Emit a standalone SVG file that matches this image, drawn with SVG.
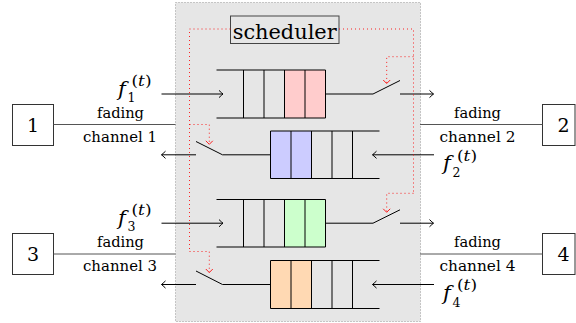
<svg xmlns="http://www.w3.org/2000/svg" width="576" height="323" viewBox="0 0 576 323">
<style>
.ln{stroke:#000;stroke-width:1;fill:none}
.cl{stroke:#555;stroke-width:1;fill:none}
.ar{stroke:#000;stroke-width:1;fill:none;marker-end:url(#tip)}
.rd{stroke:#f00;stroke-width:1;fill:none;stroke-dasharray:1 3;opacity:0.85}
.rda{stroke:#f00;stroke-width:1;fill:none;stroke-dasharray:1 3;opacity:0.85;marker-end:url(#rtip)}
.box{fill:#fff;stroke:#333;stroke-width:1}
text{font-family:'DejaVu Serif','Liberation Serif',serif;fill:#000}
.lab{font-size:14.5px;text-anchor:middle}
.num{font-size:19px;text-anchor:middle}
.fm{font-style:italic;font-size:21px}
.fs{font-size:12.5px}
.fp{font-size:14.5px}
</style>
<defs>
<marker id="tip" markerUnits="userSpaceOnUse" markerWidth="10" markerHeight="10" refX="0" refY="0" orient="auto" overflow="visible">
<path d="M-4,-3.6 Q-1.2,-0.9 0,0 Q-1.2,0.9 -4,3.6" fill="none" stroke="#000" stroke-width="1"/>
</marker>
<marker id="rtip" markerUnits="userSpaceOnUse" markerWidth="10" markerHeight="10" refX="0" refY="0" orient="auto" overflow="visible">
<path d="M-3.5,-3.5 L0,0 L-3.5,3.5" fill="none" stroke="#f00" stroke-width="1"/>
</marker>
</defs>

<g id="scheduler-area">
<rect x="175.5" y="2.5" width="245" height="319" fill="#e6e6e6" stroke="#999" stroke-width="1" stroke-dasharray="1 2"/>
</g>

<g id="scheduler">
<rect x="230.5" y="16" width="108.5" height="27.5" fill="#e6e6e6" stroke="#444" stroke-width="1"/>
<text x="284.7" y="38.5" font-size="21" text-anchor="middle" textLength="104" lengthAdjust="spacingAndGlyphs">scheduler</text>
</g>

<g id="queue1">
<rect x="284.5" y="70" width="41" height="48" fill="#ffcccc"/>
<path class="ln" d="M216.5,70H325.5M216.5,118H325.5M243.5,70V118M264,70V118M284.5,70V118M305,70V118M325.5,70V118"/>
</g>
<g id="queue2">
<rect x="270.5" y="131" width="41" height="47.5" fill="#ccccff"/>
<path class="ln" d="M270.5,131H379.5M270.5,178.5H379.5M270.5,131V178.5M291,131V178.5M311.5,131V178.5M332,131V178.5M352.5,131V178.5"/>
</g>
<g id="queue3">
<rect x="284.5" y="199.5" width="41" height="47.5" fill="#ccffcc"/>
<path class="ln" d="M216.5,199.5H325.5M216.5,247H325.5M243.5,199.5V247M264,199.5V247M284.5,199.5V247M305,199.5V247M325.5,199.5V247"/>
</g>
<g id="queue4">
<rect x="270.5" y="260.5" width="41" height="48" fill="#ffd9b3"/>
<path class="ln" d="M270.5,260.5H379.5M270.5,308.5H379.5M270.5,260.5V308.5M291,260.5V308.5M311.5,260.5V308.5M332,260.5V308.5M352.5,260.5V308.5"/>
</g>

<g id="node1">
<rect class="box" x="12.5" y="104.5" width="41" height="41"/>
<text class="num" x="33" y="132">1</text>
</g>
<g id="node2">
<rect class="box" x="542.5" y="104.5" width="32.5" height="41"/>
<text class="num" x="563.5" y="132">2</text>
</g>
<g id="node3">
<rect class="box" x="12.5" y="233.5" width="41" height="41"/>
<text class="num" x="33" y="261">3</text>
</g>
<g id="node4">
<rect class="box" x="542.5" y="233.5" width="32.5" height="41"/>
<text class="num" x="563.5" y="261">4</text>
</g>

<g id="connectors">
<path class="cl" d="M53.5,124.5H175.5"/>
<path class="cl" d="M420,124.5H542.5"/>
<path class="cl" d="M53.5,254H175.5"/>
<path class="cl" d="M420,254H542.5"/>
<path class="ar" d="M161.5,94H223"/>
<path class="ar" d="M434,154.8H372.5"/>
<path class="ar" d="M161.5,223.2H223"/>
<path class="ar" d="M434,284.5H372.5"/>
<path class="ln" d="M325.5,94H373L400,80.5"/>
<path class="ar" d="M400,94H433.5"/>
<path class="ln" d="M270.5,154.8H222.5L196,141.5"/>
<path class="ar" d="M196,154.8H161.5"/>
<path class="ln" d="M325.5,223.2H373L400,209.8"/>
<path class="ar" d="M400,223.2H433.5"/>
<path class="ln" d="M270.5,284.5H222.5L196,271"/>
<path class="ar" d="M196,284.5H161.5"/>
<path class="rd" d="M230.5,29H189.5V251.5"/>
<path class="rda" d="M189.5,251.5H209.3V272.5"/>
<path class="rda" d="M189.5,124.5H209.3V144.3"/>
<path class="rd" d="M339,29H413.5V193.3"/>
<path class="rda" d="M413.5,193.3H386.7V212.3"/>
<path class="rda" d="M413.5,56.7H386.7V83.5"/>
</g>

<g id="labels">
<text class="lab" x="120.5" y="117.5" textLength="47" lengthAdjust="spacingAndGlyphs">fading</text>
<text class="lab" x="120" y="141.5" textLength="74" lengthAdjust="spacingAndGlyphs">channel 1</text>
<text class="lab" x="477.5" y="117.5" textLength="47" lengthAdjust="spacingAndGlyphs">fading</text>
<text class="lab" x="477.5" y="141.5" textLength="76" lengthAdjust="spacingAndGlyphs">channel 2</text>
<text class="lab" x="120.5" y="247" textLength="47" lengthAdjust="spacingAndGlyphs">fading</text>
<text class="lab" x="120" y="270.5" textLength="74" lengthAdjust="spacingAndGlyphs">channel 3</text>
<text class="lab" x="477.5" y="247" textLength="47" lengthAdjust="spacingAndGlyphs">fading</text>
<text class="lab" x="477.5" y="270.5" textLength="76" lengthAdjust="spacingAndGlyphs">channel 4</text>

<text class="fm" x="118" y="96">f</text><text class="fs" x="127.5" y="102">1</text><text x="131.5" y="86" class="fp" textLength="20" lengthAdjust="spacingAndGlyphs">(<tspan font-style="italic">t</tspan>)</text>
<text class="fm" x="443" y="170">f</text><text class="fs" x="452.5" y="177">2</text><text x="457" y="160.5" class="fp" textLength="20" lengthAdjust="spacingAndGlyphs">(<tspan font-style="italic">t</tspan>)</text>
<text class="fm" x="118" y="225.3">f</text><text class="fs" x="127.5" y="231.3">3</text><text x="131.5" y="215.3" class="fp" textLength="20" lengthAdjust="spacingAndGlyphs">(<tspan font-style="italic">t</tspan>)</text>
<text class="fm" x="443" y="299.5">f</text><text class="fs" x="452.5" y="306.5">4</text><text x="457" y="290" class="fp" textLength="20" lengthAdjust="spacingAndGlyphs">(<tspan font-style="italic">t</tspan>)</text>
</g>
</svg>
